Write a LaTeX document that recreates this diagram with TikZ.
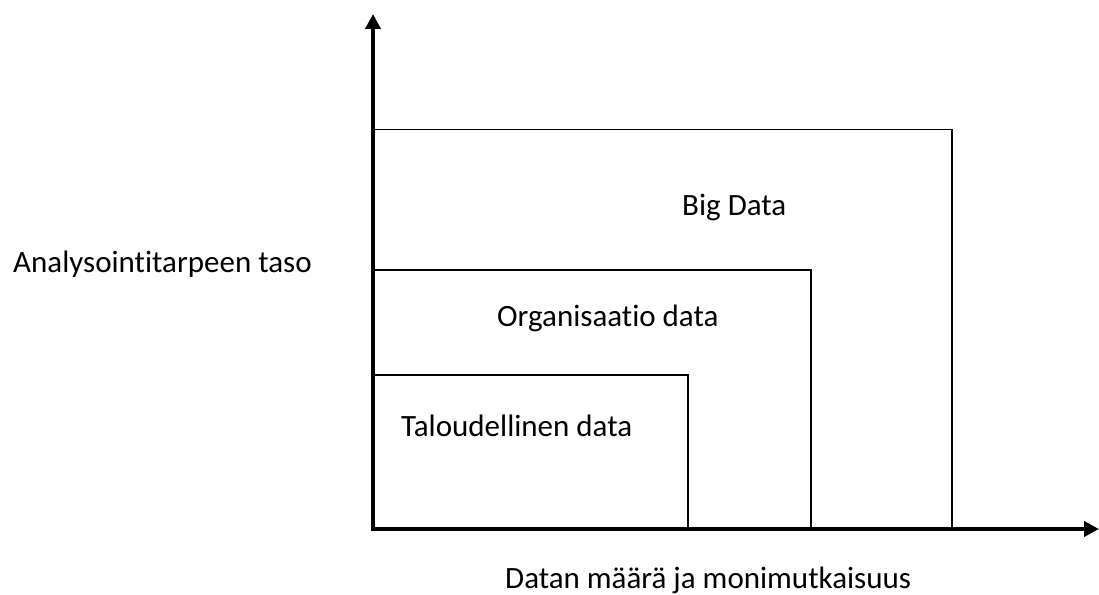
\documentclass[tikz,border=0pt]{standalone}
\usepackage{fontspec}
\setmainfont[Ligatures=NoCommon]{Carlito}
\usetikzlibrary{arrows.meta}
\tikzset{
  axisline/.style={line width=4pt,-{Triangle[length=15pt,width=15pt]}},
  boxline/.style={line width=1.6pt},
  lbl/.style={anchor=base west,inner sep=0pt,font=\fontsize{31}{37}\selectfont}
}
\begin{document}
\begin{tikzpicture}[x=1pt,y=-1pt]
\useasboundingbox (0,0) rectangle (1099,594);
\coordinate (o) at (373,529);
\coordinate (ytip) at (373,14);
\coordinate (xtip) at (1099,529);
\draw[boxline] (o) rectangle (952,129.5);
\draw[boxline] (o) rectangle (811,270);
\draw[boxline] (o) rectangle (688,375);
\draw[axisline] (373,531) -- (ytip);
\draw[axisline] (371,529) -- (xtip);
\node[lbl] (big) at (682,215) {Big Data};
\node[lbl] (org) at (497,326) {Organisaatio data};
\node[lbl] (tal) at (401,436) {Taloudellinen data};
\node[lbl] (yl) at (13,272) {Analysointitarpeen taso};
\node[lbl] (xl) at (505,588) {Datan määrä ja monimutkaisuus};
\end{tikzpicture}
\end{document}
